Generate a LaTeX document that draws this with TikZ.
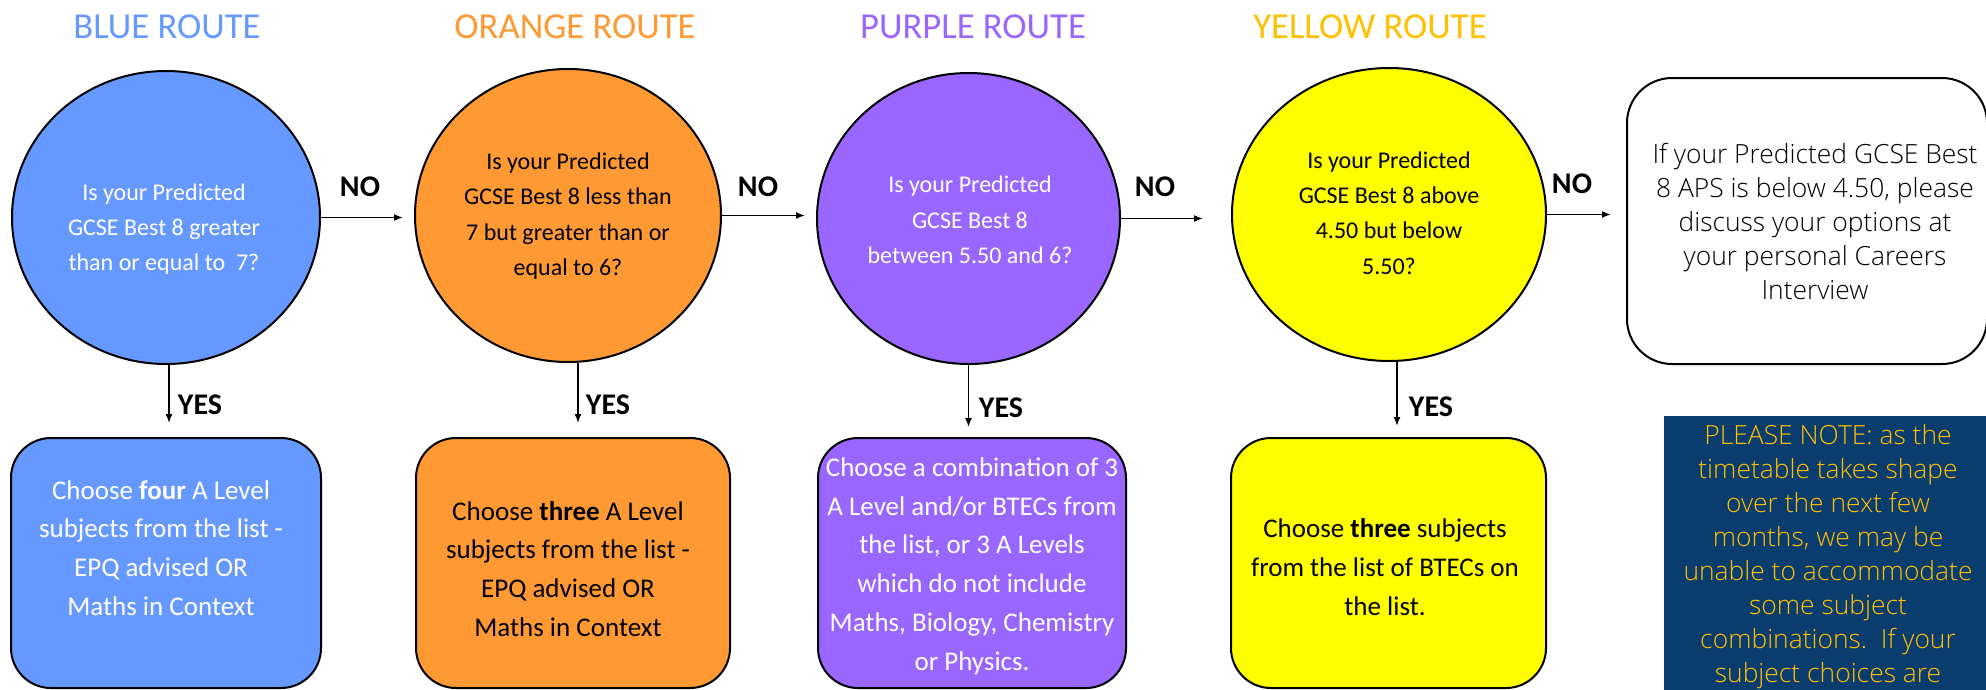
\documentclass[tikz,border=0pt]{standalone}
\usepackage{fontspec}
\setmainfont{Carlito}
\newfontfamily\oslight{Open Sans Light}
\usetikzlibrary{shapes.geometric,arrows.meta}
\definecolor{cblue}{HTML}{6699FF}
\definecolor{corange}{HTML}{FF9933}
\definecolor{cpurple}{HTML}{9966FF}
\definecolor{cyellow}{HTML}{FFFF00}
\definecolor{tyellow}{HTML}{FFC000}
\definecolor{navy}{HTML}{0B3C6E}
\definecolor{gold}{HTML}{FFC000}
\begin{document}
\begin{tikzpicture}[x=1pt,y=-1pt,
  q/.style={ellipse, draw=black, line width=2pt, inner sep=0pt},
  qtext/.style={align=center, font=\fontsize{24}{35.3}\selectfont},
  title/.style={font=\fontsize{36.6}{40}\selectfont},
  ans/.style={rectangle, rounded corners=40pt, draw=black, line width=2pt, inner sep=0pt, minimum height=250pt},
  atext/.style={align=center, font=\fontsize{27}{38.8}\selectfont},
  lab/.style={font=\bfseries\fontsize{30}{32}\selectfont},
  arr/.style={line width=1.6pt, -{Latex[length=9pt,width=7pt]}},
  light/.style={align=center, font=\oslight\fontsize{26.4}{34}\selectfont},
]
\useasboundingbox (0,0) rectangle (1986,689);

% titles
\node[title, text=cblue] (t1) at (167,27) {BLUE ROUTE};
\node[title, text=corange] (t2) at (575,27) {ORANGE ROUTE};
\node[title, text=cpurple] (t3) at (973,27) {PURPLE ROUTE};
\node[title, text=tyellow] (t4) at (1370,27) {YELLOW ROUTE};

% question circles
\node[q, fill=cblue, minimum width=308pt, minimum height=293pt] (qblue) at (166,217.5) {};
\node[q, fill=corange, minimum width=306pt, minimum height=293pt] (qorange) at (568,215.5) {};
\node[q, fill=cpurple, minimum width=303pt, minimum height=291pt] (qpurple) at (968.5,218.5) {};
\node[q, fill=cyellow, minimum width=314pt, minimum height=293pt] (qyellow) at (1389,214.5) {};

\node[qtext, text=white] (tqblue) at (164,229) {Is your Predicted\\GCSE Best 8 greater\\than or equal to\ \ 7?};
\node[qtext, text=black] (tqorange) at (568,216) {Is your Predicted\\GCSE Best 8 less than\\7 but greater than or\\equal to 6?};
\node[qtext, text=white] (tqpurple) at (970,220) {Is your Predicted\\GCSE Best 8\\between 5.50 and 6?};
\node[qtext, text=black] (tqyellow) at (1389,213) {Is your Predicted\\GCSE Best 8 above\\4.50 but below\\5.50?};

% info box
\node[draw=black, line width=2pt, rounded corners=45pt, minimum width=360pt, minimum height=286pt, inner sep=0pt, fill=white] (info) at (1807,221) {};
\node[light, text=black] (tinfo) at (1815,222) {If your Predicted GCSE Best\\8 APS is below 4.50, please\\discuss your options at\\your personal Careers\\Interview};

% answer boxes
\node[ans, fill=cblue, minimum width=310pt] (ablue) at (166,563) {};
\node[ans, fill=corange, minimum width=314pt] (aorange) at (573,563) {};
\node[ans, fill=cpurple, minimum width=308pt] (apurple) at (972,563) {};
\node[ans, fill=cyellow, minimum width=315pt] (ayellow) at (1388.5,563) {};

\node[atext, text=white] (tablue) at (161,548) {Choose \textbf{four} A Level\\subjects from the list -\\EPQ advised OR\\Maths in Context};
\node[atext, text=black] (taorange) at (568,569) {Choose \textbf{three} A Level\\subjects from the list -\\EPQ advised OR\\Maths in Context};
\node[atext, text=white] (tapurple) at (972,566) {Choose a combination of 3\\A Level and/or BTECs from\\the list, or 3 A Levels\\which do not include\\Maths, Biology, Chemistry\\or Physics.};
\node[atext, text=black] (tayellow) at (1385,567) {Choose \textbf{three} subjects\\from the list of BTECs on\\the list.};

% note box
\node[fill=navy, minimum width=326pt, minimum height=280pt, inner sep=0pt] (note) at (1827,556) {};
\node[light, text=gold] (tnote) at (1828,557) {PLEASE NOTE: as the\\timetable takes shape\\over the next few\\months, we may be\\unable to accommodate\\some subject\\combinations.\ \ If your\\subject choices are};

% NO connectors
\draw[arr, shorten >=11pt] (qblue.east) -- (qblue.east -| qorange.west);
\draw[arr, shorten >=11pt] (qorange.east) -- (qorange.east -| qpurple.west);
\draw[arr, shorten >=28pt] (qpurple.east) -- (qpurple.east -| qyellow.west);
\draw[arr, shorten >=15pt] (qyellow.east) -- (qyellow.east -| info.west);
\node[lab] (no1) at (360,187) {NO};
\node[lab] (no2) at (758,187) {NO};
\node[lab] (no3) at (1155,187) {NO};
\node[lab] (no4) at (1572,184) {NO};

% YES connectors
\draw[arr, shorten >=14pt] ([xshift=3pt]qblue.south) -- ([xshift=3pt]qblue.south |- ablue.north);
\draw[arr, shorten >=14pt] ([xshift=10pt]qorange.south) -- ([xshift=10pt]qorange.south |- aorange.north);
\draw[arr, shorten >=10pt] (qpurple.south) -- (qpurple.south |- apurple.north);
\draw[arr, shorten >=11pt] ([xshift=8pt]qyellow.south) -- ([xshift=8pt]qyellow.south |- ayellow.north);
\node[lab] (y1) at (200,405) {YES};
\node[lab] (y2) at (608,405) {YES};
\node[lab] (y3) at (1001,408) {YES};
\node[lab] (y4) at (1431,407) {YES};
\end{tikzpicture}
\end{document}
